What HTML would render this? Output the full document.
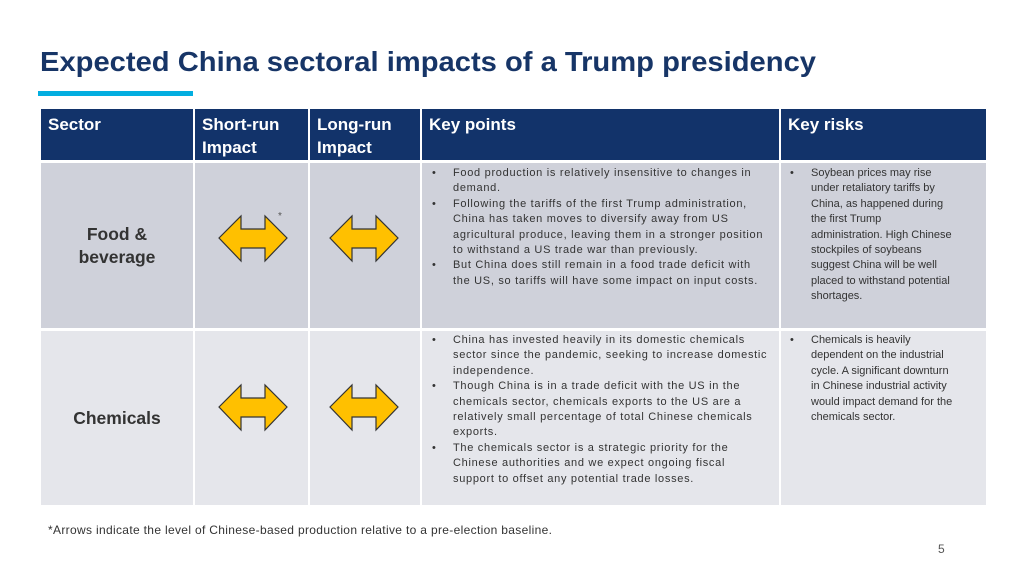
<!DOCTYPE html>
<html><head><meta charset="utf-8"><style>
body{margin:0;width:1024px;height:576px;background:#fff;position:relative;overflow:hidden;font-family:"Liberation Sans",sans-serif}
.a{position:absolute}
.cell{position:absolute;box-sizing:border-box}
.hd{background:#12336a;color:#fff;font-weight:bold;font-size:17px;line-height:23px;padding:4px 0 0 7px}
.r1{background:#cfd1da}.r2{background:#e5e6eb}
.sec{font-weight:bold;font-size:17.5px;color:#333;text-align:center;line-height:23px;display:flex;align-items:center;justify-content:center}
.bl{position:absolute;font-size:11px;line-height:15.4px;color:#333;white-space:nowrap}
.bl div{position:relative;padding-left:22px}
.bl div::before{content:"•";position:absolute;left:1px;font-size:11px}
.bl span{display:block}
.kp{font-size:11px;letter-spacing:0.7px}
.kp div::before{letter-spacing:0}
</style></head><body>
<svg class="a" style="left:0;top:0" width="1024" height="100">
<text x="40" y="71" font-family="Liberation Sans" font-weight="bold" font-size="28" fill="#173567" textLength="776" lengthAdjust="spacingAndGlyphs">Expected China sectoral impacts of a Trump presidency</text>
<rect x="38" y="91" width="155" height="5" fill="#03aee0"/>
</svg>
<div>
<div class="cell hd" style="left:41px;top:109px;width:152px;height:51px">Sector</div>
<div class="cell hd" style="left:195px;top:109px;width:113px;height:51px">Short-run<br>Impact</div>
<div class="cell hd" style="left:310px;top:109px;width:110px;height:51px">Long-run<br>Impact</div>
<div class="cell hd" style="left:422px;top:109px;width:357px;height:51px">Key points</div>
<div class="cell hd" style="left:781px;top:109px;width:205px;height:51px">Key risks</div>

<div class="cell r1 sec" style="left:41px;top:163px;width:152px;height:165px">Food &amp;<br>beverage</div>
<div class="cell r1" style="left:195px;top:163px;width:113px;height:165px"></div>
<div class="cell r1" style="left:310px;top:163px;width:110px;height:165px"></div>
<div class="cell r1" style="left:422px;top:163px;width:357px;height:165px"></div>
<div class="cell r1" style="left:781px;top:163px;width:205px;height:165px"></div>

<div class="cell r2 sec" style="left:41px;top:331px;width:152px;height:174px">Chemicals</div>
<div class="cell r2" style="left:195px;top:331px;width:113px;height:174px"></div>
<div class="cell r2" style="left:310px;top:331px;width:110px;height:174px"></div>
<div class="cell r2" style="left:422px;top:331px;width:357px;height:174px"></div>
<div class="cell r2" style="left:781px;top:331px;width:205px;height:174px"></div>
</div>

<svg class="a" style="left:0;top:0" width="1024" height="576">
<defs><polygon id="arr" points="0,22 22,0 22,13 46,13 46,0 68,22 46,45 46,32 22,32 22,45" fill="#ffc000" stroke="#333" stroke-width="1.2"/></defs>
<use href="#arr" x="219" y="216"/>
<use href="#arr" x="330" y="216"/>
<use href="#arr" x="219" y="385"/>
<use href="#arr" x="330" y="385"/>
<text x="278" y="219" font-size="10" fill="#555" font-family="Liberation Sans">*</text>
</svg>

<div class="bl kp" style="left:431px;top:166px">
<div><span>Food production is relatively insensitive to changes in</span><span>demand.</span></div>
<div><span>Following the tariffs of the first Trump administration,</span><span>China has taken moves to diversify away from US</span><span>agricultural produce, leaving them in a stronger position</span><span>to withstand a US trade war than previously.</span></div>
<div><span>But China does still remain in a food trade deficit with</span><span>the US, so tariffs will have some impact on input costs.</span></div>
</div>
<div class="bl" style="left:789px;top:166px">
<div><span>Soybean prices may rise</span><span>under retaliatory tariffs by</span><span>China, as happened during</span><span>the first Trump</span><span>administration. High Chinese</span><span>stockpiles of soybeans</span><span>suggest China will be well</span><span>placed to withstand potential</span><span>shortages.</span></div>
</div>
<div class="bl kp" style="left:431px;top:333px">
<div><span>China has invested heavily in its domestic chemicals</span><span>sector since the pandemic, seeking to increase domestic</span><span>independence.</span></div>
<div><span>Though China is in a trade deficit with the US in the</span><span>chemicals sector, chemicals exports to the US are a</span><span>relatively small percentage of total Chinese chemicals</span><span>exports.</span></div>
<div><span>The chemicals sector is a strategic priority for the</span><span>Chinese authorities and we expect ongoing fiscal</span><span>support to offset any potential trade losses.</span></div>
</div>
<div class="bl" style="left:789px;top:333px">
<div><span>Chemicals is heavily</span><span>dependent on the industrial</span><span>cycle. A significant downturn</span><span>in Chinese industrial activity</span><span>would impact demand for the</span><span>chemicals sector.</span></div>
</div>

<div class="a" style="left:48px;top:523px;font-size:12px;letter-spacing:0.33px;color:#333;white-space:nowrap">*Arrows indicate the level of Chinese-based production relative to a pre-election baseline.</div>
<div class="a" style="left:938px;top:542px;font-size:12px;color:#555">5</div>
</body></html>
